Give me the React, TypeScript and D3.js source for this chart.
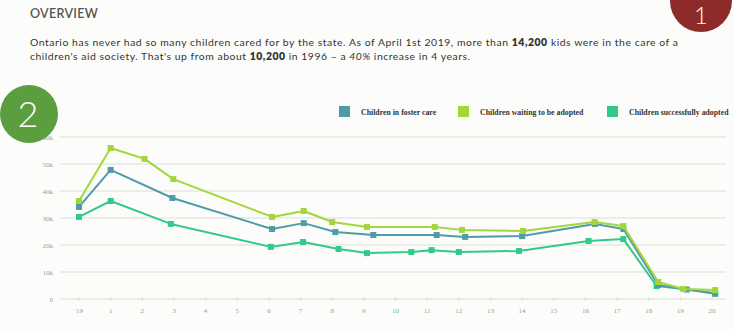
import React from "react";
import * as d3 from "d3";

const xTickLabels = ["'19","1","2","3","4","5","6","7","8","9","10","11","12","13","14","15","16","17","18","19","20"];
const yTicks = [0, 10000, 20000, 30000, 40000, 50000, 60000];
const yTickLabels = ["0", "10k", "20k", "30k", "40k", "50k", "60k"];

const seriesNames = ["Children in foster care", "Children waiting to be  adopted", "Children successfully adopted"];
const seriesColors = ["#4f9ca8", "#a3d63a", "#33c98b"];

const fosterX = [0, 1, 2.95, 6.1, 7.1, 8.1, 9.3, 11.3, 12.2, 14.0, 16.3, 17.2, 18.3, 19.2, 20.1];
const fosterY = [34100, 47800, 37400, 25900, 28100, 24800, 23700, 23700, 23000, 23300, 27800, 25900, 5200, 3500, 1900];

const waitingX = [0, 1, 2.07, 2.98, 6.1, 7.1, 8.0, 9.1, 11.24, 12.1, 14.03, 16.29, 17.2, 18.3, 19.1, 20.1];
const waitingY = [36300, 55900, 51900, 44400, 30400, 32600, 28500, 26700, 26700, 25600, 25200, 28500, 27000, 6300, 3700, 3300];

const adoptedX = [0, 1, 2.9, 6.06, 7.08, 8.2, 9.1, 10.5, 11.14, 12.0, 13.9, 16.1, 17.2, 18.25, 19.1, 20.1];
const adoptedY = [30400, 36300, 27800, 19300, 21100, 18500, 17000, 17400, 18100, 17400, 17800, 21500, 22200, 4800, 3700, 2200];

const W = 734, H = 330;

export default function App() {
  const x = d3.scaleLinear().domain([0, 20]).range([79, 712]);
  const y = d3.scaleLinear().domain([0, 60000]).range([299, 137]);
  const series = [
    { xs: fosterX, ys: fosterY },
    { xs: waitingX, ys: waitingY },
    { xs: adoptedX, ys: adoptedY },
  ];
  const line = d3.line<[number, number]>().x(d => x(d[0])).y(d => y(d[1]));
  const serif = "'Liberation Serif', 'DejaVu Serif', serif";
  const sans = "Lato, 'Open Sans', sans-serif";
  const legendX = [339, 458, 607];
  const order = [2, 0, 1];
  return (
    <div style={{ position: "absolute", left: 0, top: 0, width: W, height: H, background: "#fcfdfa" }}>
      <svg width={W} height={H} style={{ display: "block" }}>
        <rect x={0} y={0} width={W} height={H} fill="#fcfdfa" />
        {/* header */}
        <text x={30} y={17.5} fontFamily={sans} fontSize={12.5} fontWeight={600} fill="#555" letterSpacing={0.3}>OVERVIEW</text>
        <text x={30} y={46} fontFamily={sans} fontSize={10.4} fill="#333" textLength={648} lengthAdjust="spacing">
          Ontario has never had so many children cared for by the state. As of April 1st 2019, more than <tspan fontWeight={800}>14,200</tspan> kids were in the care of a
        </text>
        <text x={30} y={59.5} fontFamily={sans} fontSize={10.4} fill="#333" textLength={440} lengthAdjust="spacing">
          children's aid society. That's up from about <tspan fontWeight={800}>10,200</tspan> in 1996 – a <tspan fontStyle="italic">40%</tspan> increase in 4 years.
        </text>
        {/* badge 1 */}
        <circle cx={701} cy={1} r={31} fill="#8c2b2a" />
        <text x={701} y={24} textAnchor="middle" fontFamily={sans} fontSize={24} fontWeight={300} fill="#fff">1</text>

        {/* grid */}
        {yTicks.map((t, i) => (
          <g key={i}>
            <line x1={60} x2={726} y1={y(t)} y2={y(t)} stroke="#e7e7e3" strokeWidth={1.4} />
            <text x={53} y={y(t) + 2.5} textAnchor="end" fontFamily={serif} fontSize={7} fill="#8aa6a0">{yTickLabels[i]}</text>
          </g>
        ))}
        {/* x ticks */}
        {xTickLabels.map((l, i) => (
          <g key={i}>
            <line x1={x(i)} x2={x(i)} y1={297} y2={301} stroke="#ddd" strokeWidth={1} />
            <text x={x(i)} y={313} textAnchor="middle" fontFamily={serif} fontSize={7} fill="#8aa6a0">{l}</text>
          </g>
        ))}
        {/* green badge 2 */}
        <circle cx={29} cy={114} r={29} fill="#5a9e3f" />
        <text x={28} y={127} textAnchor="middle" fontFamily={sans} fontSize={36} fontWeight={300} fill="#fff">2</text>

        {/* legend */}
        {seriesNames.map((n, i) => (
          <g key={i}>
            <rect x={legendX[i]} y={106} width={11} height={11} fill={seriesColors[i]} />
            <text x={legendX[i] + 22} y={114.5} fontFamily={serif} fontSize={7.8} fontWeight={700} fill="#333">{n}</text>
          </g>
        ))}

        {/* lines */}
        {order.map(si => {
          const s = series[si];
          const pts: [number, number][] = s.xs.map((xv, j) => [xv, s.ys[j]]);
          return (
            <g key={si}>
              <path d={line(pts) || ""} fill="none" stroke={seriesColors[si]} strokeWidth={2} strokeLinejoin="round" />
              {pts.map((p, j) => (
                <rect key={j} x={x(p[0]) - 3} y={y(p[1]) - 3} width={6} height={6} fill={seriesColors[si]} />
              ))}
            </g>
          );
        })}
      </svg>
    </div>
  );
}
